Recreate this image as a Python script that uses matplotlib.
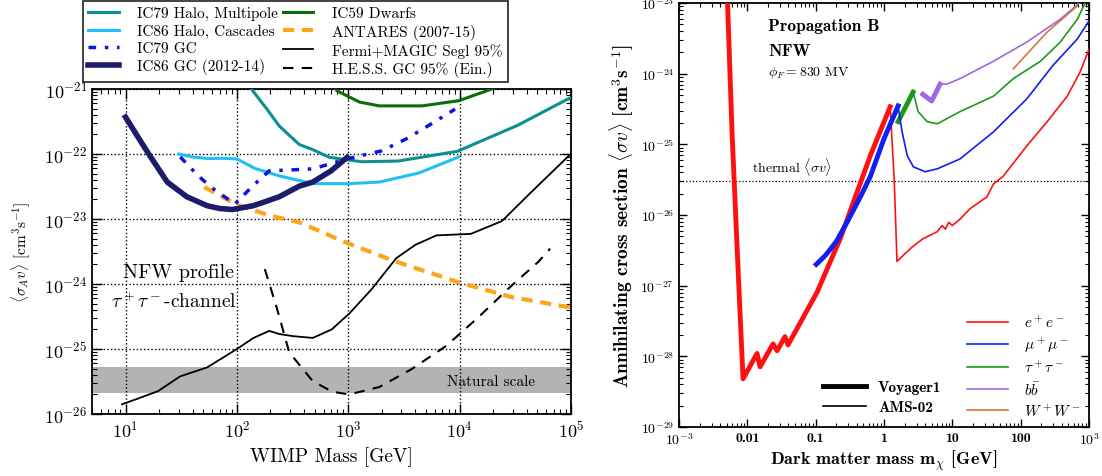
import numpy as np
import matplotlib
matplotlib.use('Agg')
import matplotlib.pyplot as plt
from matplotlib.ticker import LogLocator, FixedLocator, FixedFormatter, NullFormatter
from matplotlib.lines import Line2D

plt.rcParams['font.family'] = 'cmr10'
plt.rcParams['mathtext.fontset'] = 'cm'
plt.rcParams['axes.formatter.use_mathtext'] = True
plt.rcParams['axes.unicode_minus'] = False

# ---------------- Left panel data (WIMP mass [GeV], <sigma v> [cm^3/s]) ----------------
ic79_halo_m = [130, 135, 186, 240, 363, 479, 676, 1320, 2820, 9550, 3.3e4, 9.5e4, 1e5]
ic79_halo_sv = [1.1e-21, 1.0e-21, 4.9e-22, 2.7e-22, 1.4e-22, 1.17e-22, 8.9e-23, 7.6e-23, 7.8e-23,
                1.1e-22, 2.75e-22, 7.1e-22, 7.4e-22]

ic86_casc_m = [30, 40, 55, 75, 100, 145, 240, 480, 1000, 1900, 4300, 9800]
ic86_casc_sv = [1.0e-22, 9.0e-23, 8.5e-23, 8.6e-23, 8.4e-23, 6.0e-23, 4.6e-23, 3.5e-23, 3.5e-23,
                3.7e-23, 5.1e-23, 9.0e-23]

ic79_gc_m = [31, 45, 60, 96, 138, 195, 480, 950, 2000, 3300, 5000, 9100]
ic79_gc_sv = [9.0e-23, 4.6e-23, 3.0e-23, 1.7e-23, 3.2e-23, 5.5e-23, 5.9e-23, 8.3e-23, 1.12e-22,
              1.7e-22, 2.6e-22, 4.9e-22]

ic86_gc_m = [10, 13, 16.6, 23.7, 35.5, 54, 70, 91, 140, 180, 240, 363, 480, 700, 980]
ic86_gc_sv = [3.7e-22, 1.8e-22, 9.3e-23, 3.7e-23, 2.2e-23, 1.6e-23, 1.45e-23, 1.4e-23, 1.6e-23,
              1.85e-23, 2.2e-23, 3.2e-23, 3.7e-23, 5.5e-23, 8.9e-23]

ic59_dw_m = [700, 800, 1260, 1900, 4600, 9800, 1.95e4, 2.2e4]
ic59_dw_sv = [1.2e-21, 9.3e-22, 6.3e-22, 5.5e-22, 5.5e-22, 6.6e-22, 1.0e-21, 1.1e-21]

antares_m = [51, 100, 200, 363, 1000, 2700, 1e4, 2.9e4, 8.9e4, 1e5]
antares_sv = [3.1e-23, 1.66e-23, 1.12e-23, 8.9e-24, 4.2e-24, 2.2e-24, 1.05e-24, 6.3e-25, 4.5e-25, 4.4e-25]

fermi_m = [9.3, 12.6, 19.5, 31, 54, 100, 141, 195, 240, 316, 480, 710, 1020, 1620, 2700, 4000,
           6200, 1.26e4, 2.4e4, 4.2e4, 9.5e4, 1e5]
fermi_sv = [1.41e-26, 1.7e-26, 2.24e-26, 3.8e-26, 5.2e-26, 1.0e-25, 1.48e-25, 1.9e-25, 1.7e-25,
            1.58e-25, 1.48e-25, 2.0e-25, 3.5e-25, 8.3e-25, 2.5e-24, 4.0e-24, 5.6e-24, 5.9e-24,
            9.3e-24, 2.4e-23, 9.3e-23, 1.0e-22]

hess_m = [178, 229, 295, 480, 720, 1020, 1900, 3700, 7600, 1.48e4, 2.9e4, 5.1e4, 6.5e4]
hess_sv = [1.7e-24, 4.2e-25, 8.9e-26, 3.2e-26, 2.2e-26, 2.0e-26, 2.6e-26, 4.9e-26, 1.12e-25,
           3.1e-25, 9.3e-25, 2.2e-24, 3.5e-24]

natural_band = [2.1e-26, 5.2e-26]

left_labels = ['IC79 Halo, Multipole', 'IC86 Halo, Cascades', 'IC79 GC', 'IC86 GC (2012-14)',
               'IC59 Dwarfs', 'ANTARES (2007-15)', 'Fermi+MAGIC Segl 95%', 'H.E.S.S. GC 95% (Ein.)']
left_xticks = [1e1, 1e2, 1e3, 1e4, 1e5]
left_yticks = [1e-26, 1e-25, 1e-24, 1e-23, 1e-22, 1e-21]

# ---------------- Right panel data (DM mass [GeV], <sigma v> [cm^3/s]) ----------------
voy_ee_m = [5.1e-3, 5.97e-3, 7.1e-3, 8.65e-3, 0.01387, 0.01535, 0.0238, 0.0272, 0.0356, 0.0394,
            0.105, 0.228, 0.63, 1.23]
voy_ee_sv = [1.2e-23, 1.5e-25, 3.3e-27, 4.8e-29, 1.1e-28, 7.1e-29, 1.5e-28, 1.2e-28, 1.9e-28,
             1.45e-28, 8.1e-28, 4.6e-27, 6.9e-26, 3.4e-25]

voy_mm_m = [0.102, 0.14, 0.2, 0.3, 0.45, 0.63, 1.0, 1.61]
voy_mm_sv = [2.0e-27, 2.7e-27, 4.2e-27, 8.5e-27, 1.8e-26, 3.5e-26, 1.2e-25, 3.5e-25]

voy_tt_m = [1.61, 2.67]
voy_tt_sv = [2.1e-25, 5.5e-25]

voy_bb_m = [3.7, 5.0, 6.6]
voy_bb_sv = [5.1e-25, 4.1e-25, 7.1e-25]

ams_ee_m = [1.23, 1.41, 1.55, 2.0, 2.57, 3.7, 6.0, 7.1, 7.9, 8.9, 10, 12.9, 18.2, 32, 40, 55,
            123, 245, 480, 740, 1000]
ams_ee_sv = [3.4e-25, 3.2e-26, 2.2e-27, 2.8e-27, 3.5e-27, 4.6e-27, 5.8e-27, 7.1e-27, 6.3e-27,
             7.9e-27, 7.1e-27, 8.7e-27, 1.23e-26, 1.8e-26, 2.75e-26, 3.5e-26, 9.5e-26, 2.1e-25,
             4.8e-25, 1.05e-24, 2.2e-24]

ams_mm_m = [1.61, 1.84, 2.19, 2.69, 4.0, 6.0, 12.9, 40, 123, 295, 676, 1000]
ams_mm_sv = [3.4e-25, 1.5e-25, 6.9e-26, 4.8e-26, 4.1e-26, 4.5e-26, 6.2e-26, 1.5e-25, 4.4e-25,
             1.3e-24, 3.1e-24, 5.6e-24]

ams_tt_m = [2.67, 3.16, 4.27, 6.0, 12.9, 40, 78, 195, 380, 676, 870, 930]
ams_tt_sv = [5.5e-25, 2.9e-25, 2.1e-25, 1.95e-25, 2.9e-25, 4.8e-25, 8.5e-25, 1.5e-24, 2.8e-24,
             5.9e-24, 9.8e-24, 1.1e-23]

ams_bb_m = [6.6, 8.3, 12.9, 40, 123, 380, 740, 800]
ams_bb_sv = [7.1e-25, 7.1e-25, 8.5e-25, 1.5e-24, 2.8e-24, 5.9e-24, 1.02e-23, 1.1e-23]

ams_ww_m = [78, 245, 676]
ams_ww_sv = [1.17e-24, 3.9e-24, 9.1e-24]

thermal_sv = 3e-26

right_xticks = [1e-3, 1e-2, 1e-1, 1, 10, 100, 1e3]
right_xticklabels = [r'$10^{-3}$', '0.01', '0.1', '1', '10', '100', r'$10^{3}$']
right_yticks = [1e-29, 1e-28, 1e-27, 1e-26, 1e-25, 1e-24, 1e-23]
channel_labels = [r'$e^+e^-$', r'$\mu^+\mu^-$', r'$\tau^+\tau^-$', r'$b\bar{b}$', r'$W^+W^-$']

# ---------------- Figure ----------------
fig = plt.figure(figsize=(11.02, 4.77), dpi=100)
axL = fig.add_axes([92 / 1102, 1 - 415 / 477, 479 / 1102, 325 / 477])
axR = fig.add_axes([679 / 1102, 1 - 428 / 477, 410 / 1102, 424 / 477])

# ---- left ----
axL.set_xscale('log')
axL.set_yscale('log')
axL.set_xlim(5, 1e5)
axL.set_ylim(1e-26, 1e-21)
axL.axhspan(natural_band[0], natural_band[1], color='#b3b3b3', lw=0, zorder=0)
axL.grid(True, which='major', ls=':', color='k', lw=1.0, zorder=1)

c_teal = '#0b8f8f'
c_cyan = '#1ec0f5'
c_blue = '#0a14e6'
c_navy = '#1c1c6b'
c_green = '#0a6e0a'
c_orange = '#ffa31a'

l1, = axL.plot(ic79_halo_m, ic79_halo_sv, color=c_teal, lw=2.2, zorder=3)
l2, = axL.plot(ic86_casc_m, ic86_casc_sv, color=c_cyan, lw=2.2, zorder=3)
l3, = axL.plot(ic79_gc_m, ic79_gc_sv, color=c_blue, lw=2.5, dashes=(2.2, 2.5, 1, 2.5), zorder=4)
l4, = axL.plot(ic86_gc_m, ic86_gc_sv, color=c_navy, lw=4.0, zorder=4)
l5, = axL.plot(ic59_dw_m, ic59_dw_sv, color=c_green, lw=2.2, zorder=3)
l6, = axL.plot(antares_m, antares_sv, color=c_orange, lw=3.0, dashes=(2.7, 1.8), zorder=3)
l7, = axL.plot(fermi_m, fermi_sv, color='k', lw=1.3, zorder=3)
l8, = axL.plot(hess_m, hess_sv, color='k', lw=1.5, dashes=(5, 4), zorder=3)

axL.text(9.4, 1.55e-24, 'NFW profile', fontsize=14.5, va='center', ha='left')
axL.text(7.35, 5.5e-25, r'$\tau^+\tau^-$-channel', fontsize=14, va='center', ha='left')
axL.text(1.9e4, 3.2e-26, 'Natural scale', fontsize=11, va='center', ha='center')

axL.tick_params(which='both', direction='in', top=True, right=True)
axL.tick_params(which='major', length=7, width=1, labelsize=13)
axL.tick_params(which='minor', length=3.5, width=0.8)
axL.xaxis.set_major_locator(FixedLocator(left_xticks))
axL.xaxis.set_minor_locator(LogLocator(base=10, subs=np.arange(2, 10), numticks=20))
axL.yaxis.set_major_locator(FixedLocator(left_yticks))
axL.yaxis.set_minor_locator(LogLocator(base=10, subs=np.arange(2, 10), numticks=20))
axL.yaxis.set_minor_formatter(NullFormatter())
axL.xaxis.set_minor_formatter(NullFormatter())
for s in axL.spines.values():
    s.set_linewidth(1.3)

axL.set_xlabel('WIMP Mass [GeV]', fontsize=14)
axL.xaxis.set_label_coords(0.5, -0.10)
axL.set_ylabel(r'$\langle\sigma_A v\rangle$ [cm$^3$s$^{-1}$]', fontsize=11)
axL.yaxis.set_label_coords(-0.125, 0.5)

leg = fig.legend([l1, l2, l3, l4, l5, l6, l7, l8], left_labels, ncol=2, loc='upper left',
                 bbox_to_anchor=(83 / 1102, 1 - 2 / 477), frameon=True, fancybox=False,
                 edgecolor='k', fontsize=11, handlelength=2.0, columnspacing=0.3,
                 labelspacing=0.22, borderpad=0.35, handletextpad=1.2, borderaxespad=0)
leg.get_frame().set_linewidth(1.3)

# ---- right ----
axR.set_xscale('log')
axR.set_yscale('log')
axR.set_xlim(1e-3, 1e3)
axR.set_ylim(1e-29, 1e-23)

c_red = '#ff1010'
c_rblue = '#1020f0'
c_rgreen = '#1a9a1a'
c_purple = '#a066e6'
c_brown = '#d8753a'

axR.axhline(thermal_sv, color='k', ls=':', lw=0.9, zorder=1)
axR.text(0.0117, 3.5e-26, r'thermal $\langle\sigma v\rangle$', fontsize=10, ha='left', va='bottom')

axR.plot(voy_ee_m, voy_ee_sv, color=c_red, lw=3.5, zorder=3)
axR.plot(voy_mm_m, voy_mm_sv, color=c_rblue, lw=3.5, zorder=4)
axR.plot(voy_tt_m, voy_tt_sv, color=c_rgreen, lw=3.5, zorder=3)
axR.plot(voy_bb_m, voy_bb_sv, color=c_purple, lw=3.5, zorder=3)
axR.plot(ams_ee_m, ams_ee_sv, color=c_red, lw=1.2, zorder=3)
axR.plot(ams_mm_m, ams_mm_sv, color=c_rblue, lw=1.2, zorder=3)
axR.plot(ams_tt_m, ams_tt_sv, color=c_rgreen, lw=1.2, zorder=3)
axR.plot(ams_bb_m, ams_bb_sv, color=c_purple, lw=1.2, zorder=3)
axR.plot(ams_ww_m, ams_ww_sv, color=c_brown, lw=1.2, zorder=3)

axR.text(0.217, 0.946, 'Propagation B', transform=axR.transAxes, fontsize=12.5,
         family='cmb10', va='center', ha='left')
axR.text(0.217, 0.887, 'NFW', transform=axR.transAxes, fontsize=12.5,
         family='cmb10', va='center', ha='left')
axR.text(0.217, 0.837, r'$\phi_F = 830$ MV', transform=axR.transAxes, fontsize=10,
         va='center', ha='left')

axR.tick_params(which='both', direction='in', top=True, right=True)
axR.tick_params(which='major', length=6, width=1, labelsize=10)
axR.tick_params(which='minor', length=3, width=0.8)
axR.xaxis.set_major_locator(FixedLocator(right_xticks))
axR.xaxis.set_major_formatter(FixedFormatter(right_xticklabels))
axR.xaxis.set_minor_locator(LogLocator(base=10, subs=np.arange(2, 10), numticks=20))
axR.xaxis.set_minor_formatter(NullFormatter())
axR.yaxis.set_major_locator(FixedLocator(right_yticks))
axR.yaxis.set_minor_locator(LogLocator(base=10, subs=np.arange(2, 10), numticks=20))
axR.yaxis.set_minor_formatter(NullFormatter())
for lab in axR.get_xticklabels():
    lab.set_family('cmb10')
for s in axR.spines.values():
    s.set_linewidth(1.3)

axR.set_xlabel(r'Dark matter mass m$_\chi$ [GeV]', fontsize=13, family='cmb10')
axR.xaxis.set_label_coords(0.5, -0.05)
axR.set_ylabel(r'Annihilating cross section $\langle\sigma v\rangle$ [cm$^3$s$^{-1}$]',
               fontsize=14, family='cmb10')
axR.yaxis.set_label_coords(-0.105, 0.5)

h_voy = Line2D([], [], color='k', lw=3.5)
h_ams = Line2D([], [], color='k', lw=1.2)
legA = axR.legend([h_voy, h_ams], ['Voyager1', 'AMS-02'], loc='center left',
                  bbox_to_anchor=((823 - 679) / 410, 1 - (398 - 4) / 424), frameon=False,
                  prop={'family': 'cmb10', 'size': 11}, handlelength=2.8, handletextpad=0.8,
                  labelspacing=0.4, borderpad=0, borderaxespad=0)
axR.add_artist(legA)

h_ch = [Line2D([], [], color=c, lw=1.2) for c in [c_red, c_rblue, c_rgreen, c_purple, c_brown]]
legB = axR.legend(h_ch, channel_labels, loc='center left',
                  bbox_to_anchor=((967 - 679) / 410, 1 - (367.5 - 4) / 424), frameon=False,
                  fontsize=11, handlelength=2.7, handletextpad=1.0, labelspacing=0.32,
                  borderpad=0, borderaxespad=0)

fig.savefig('out.png', dpi=100)
